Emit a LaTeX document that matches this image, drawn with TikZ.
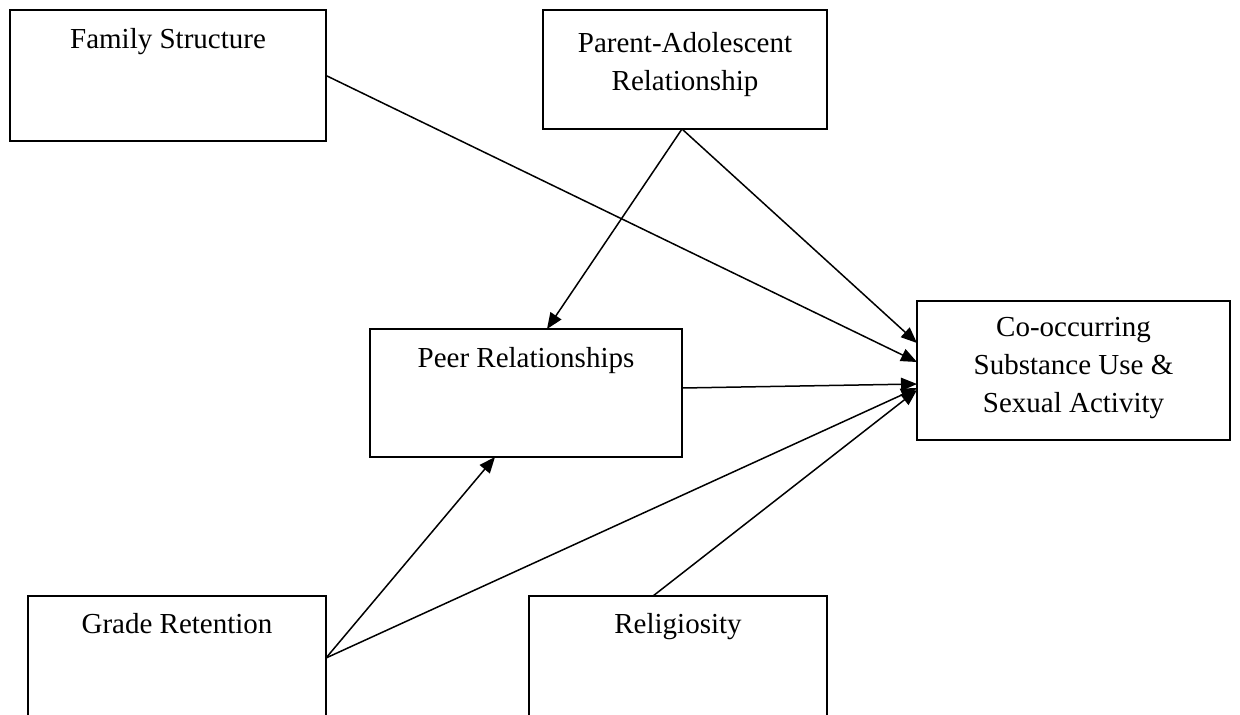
\documentclass[tikz,border=0pt]{standalone}
\usepackage{fontspec}
\setmainfont{Liberation Serif}
\usetikzlibrary{arrows.meta}
\begin{document}
\begin{tikzpicture}[x=1pt,y=-1pt,
  box/.style={draw=black, line width=1.6pt, inner sep=0pt, outer sep=0pt},
  txt/.style={font=\fontsize{29}{38}\selectfont, align=center, anchor=north, inner sep=0pt, text=black},
  link/.style={line width=1.5pt, -{Triangle[length=16pt,width=13pt]}}]
\useasboundingbox (0,0) rectangle (1240,715);
\fill[white] (0,0) rectangle (1240,715);
\clip (0,0) rectangle (1240,715);
% boxes
\node[box, minimum width=316pt, minimum height=131pt] (fam) at (168,75.5) {};
\node[box, minimum width=284pt, minimum height=119pt] (par) at (685,69.5) {};
\node[box, minimum width=313pt, minimum height=139pt] (co) at (1073.5,370.5) {};
\node[box, minimum width=312pt, minimum height=128pt] (peer) at (526,393) {};
\node[box, minimum width=298pt, minimum height=164pt] (gr) at (177,678) {};
\node[box, minimum width=298pt, minimum height=164pt] (rel) at (678,678) {};
% texts
\node[txt] (famt) at ([yshift=-18pt]fam.north) {Family Structure};
\node[txt] (part) at ([yshift=-22pt]par.north) {Parent-Adolescent\\Relationship};
\node[txt] (cot) at ([yshift=-16pt]co.north) {Co-occurring\\Substance Use \&\\Sexual Activity};
\node[txt] (peert) at ([yshift=-18pt]peer.north) {Peer Relationships};
\node[txt] (grt) at ([yshift=-17pt]gr.north) {Grade Retention};
\node[txt] (relt) at ([yshift=-17pt]rel.north) {Religiosity};
% connectors
\draw[link] (fam.east) -- ([yshift=8.5pt]co.west);
\draw[link] ([xshift=-3pt]par.south) -- ([yshift=27.5pt]co.west);
\draw[link] ([xshift=-3pt]par.south) -- ([xshift=21pt]peer.north);
\draw[link] ([yshift=5pt]peer.east) -- ([yshift=-13.5pt]co.west);
\draw[link] ([yshift=20pt]gr.east) -- ([xshift=-31pt]peer.south);
\draw[link] ([yshift=20pt]gr.east) -- ([yshift=-17.5pt]co.west);
\draw[link] ([xshift=-25pt]rel.north) -- ([yshift=-19.5pt]co.west);
\end{tikzpicture}
\end{document}
